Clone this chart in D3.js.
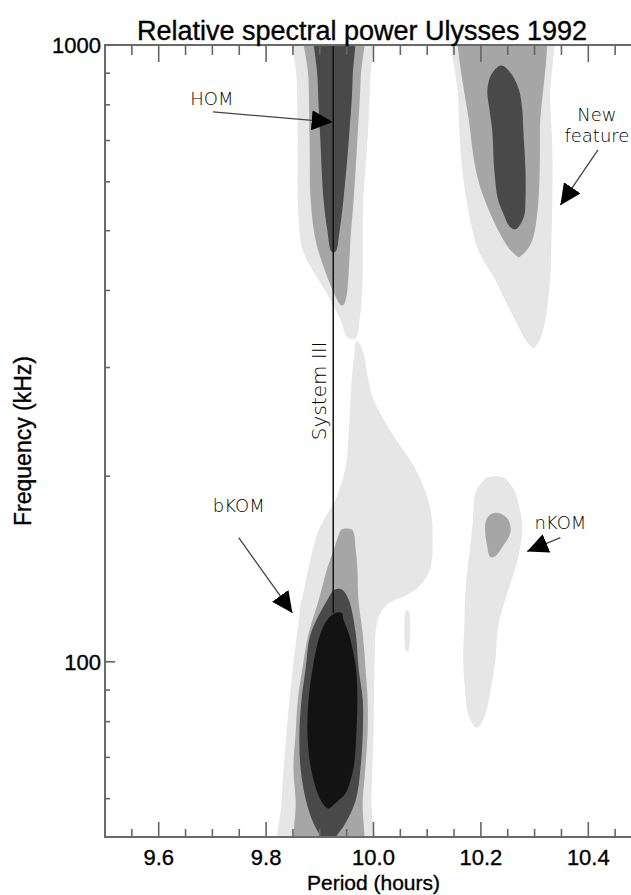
<!DOCTYPE html>
<html><head><meta charset="utf-8">
<script src="https://cdn.jsdelivr.net/npm/d3@7"></script>
<style>body{margin:0;background:#fff} svg{display:block}</style>
</head><body><svg id="c" width="631" height="895"></svg>
<script>
// ---------- data ----------
const periodDomain = [9.5, 10.5];
const freqDomain = [52, 1000];
const periodMajorTicks = [9.6, 9.8, 10.0, 10.2, 10.4];
const periodMinorTicks = [9.55, 9.65, 9.7, 9.75, 9.85, 9.9, 9.95, 10.05, 10.1, 10.15, 10.25, 10.3, 10.35, 10.45];
const freqMajorTicks = [100, 1000];
const freqMinorTicks = [60, 70, 80, 90, 200, 300, 400, 500, 600, 700, 800, 900];
const systemIIIPeriod = 9.925;
const systemIIIRange = [120, 1000];

// contour regions: rows of [frequency kHz, left period, right period]
const homLight = [[1200,9.851,9.996],[878,9.857,9.994],[702,9.859,9.989],[561,9.859,9.981],[465,9.868,9.980],[424,9.892,9.980],[386,9.920,9.978],[358,9.939,9.974],[335,9.952,9.967]];
const homMid = [[1200,9.872,9.978],[878,9.879,9.976],[702,9.881,9.970],[561,9.883,9.963],[483,9.892,9.957],[432,9.909,9.954],[393,9.928,9.950],[379,9.939,9.944]];
const homDark = [[1200,9.892,9.959],[878,9.896,9.961],[702,9.901,9.954],[561,9.907,9.944],[501,9.914,9.937],[462,9.922,9.929]];
const newLight = [[1200,10.154,10.323],[815,10.158,10.329],[676,10.162,10.333],[561,10.173,10.333],[465,10.195,10.331],[416,10.227,10.329],[386,10.245,10.325],[358,10.264,10.320],[333,10.283,10.310],[323,10.296,10.299]];
const newMid = [[1200,10.169,10.307],[728,10.180,10.310],[604,10.195,10.309],[534,10.217,10.305],[483,10.242,10.296],[462,10.258,10.283],[453,10.270,10.271]];
const newDark = [[925,10.234,10.242],[894,10.219,10.258],[845,10.212,10.271],[785,10.216,10.277],[728,10.221,10.279],[627,10.225,10.283],[561,10.232,10.283],[530,10.243,10.281],[511,10.251,10.273],[503,10.260,10.266]];
const komLight = [[330,9.967,9.971],[318,9.965,9.981],[297,9.961,9.987],[266,9.957,10.000],[235,9.954,10.034],[207,9.948,10.076],[183,9.929,10.102],[172,9.911,10.108],[162,9.896,10.110],[142,9.879,10.106],[133,9.872,10.087],[128,9.868,10.059],[124,9.864,10.026],[117,9.861,10.008],[98,9.850,10.002],[76.6,9.838,10.000],[59.7,9.829,9.996],[45,9.828,9.994]];
const komStreak = [[121,10.061,10.065],[104,10.061,10.065]];
const komMid = [[164,9.941,9.959],[162,9.937,9.963],[152,9.926,9.967],[142,9.914,9.970],[126,9.898,9.972],[111,9.879,9.980],[98,9.868,9.985],[86.7,9.859,9.989],[76.6,9.855,9.989],[67.5,9.851,9.985],[59.7,9.855,9.980],[45,9.861,9.972]];
const komDark = [[131,9.928,9.941],[126,9.914,9.954],[111,9.883,9.967],[98,9.874,9.972],[86.7,9.866,9.980],[76.6,9.862,9.980],[67.5,9.864,9.976],[59.7,9.874,9.967],[54.8,9.888,9.948],[52.8,9.898,9.935],[51.5,9.905,9.925]];
const komCore = [[120,9.929,9.941],[117,9.914,9.944],[111,9.901,9.954],[98,9.887,9.967],[86.7,9.879,9.970],[76.6,9.877,9.968],[67.5,9.883,9.963],[61.2,9.896,9.948],[59.0,9.905,9.929],[57.9,9.914,9.918]];
const nkomLight = [[199,10.212,10.242],[195,10.201,10.253],[188,10.190,10.264],[165,10.184,10.277],[146,10.177,10.268],[129,10.171,10.249],[114,10.169,10.232],[100.6,10.167,10.227],[89,10.171,10.217],[82,10.177,10.208],[78.3,10.190,10.195]];
const nkomMid = [[174,10.221,10.236],[170,10.210,10.251],[162,10.208,10.255],[153.5,10.212,10.240],[148,10.217,10.225]];

const regions = [
  {level:0, rows:homLight},{level:0, rows:newLight},{level:0, rows:komLight},{level:0, rows:komStreak},{level:0, rows:nkomLight},
  {level:1, rows:homMid},{level:1, rows:newMid},{level:1, rows:komMid},{level:1, rows:nkomMid},
  {level:2, rows:homDark},{level:2, rows:newDark},{level:2, rows:komDark},
  {level:3, rows:komCore}
];
const levelColors = ["#e6e6e6", "#a6a6a6", "#494949", "#131313"];

const labels = [
  {text:"HOM", period:9.699, freq:799},
  {text:"New", period:10.416, freq:752},
  {text:"feature", period:10.416, freq:696},
  {text:"bKOM", period:9.749, freq:175},
  {text:"nKOM", period:10.348, freq:164}
];
const arrows = [
  {from:[9.701,779], to:[9.924,750]},
  {from:[10.418,676], to:[10.348,550]},
  {from:[9.749,159], to:[9.849,120]},
  {from:[10.348,159], to:[10.286,151]}
];
const systemIIILabel = {text:"System III", period:9.901, freq:275};

// ---------- drawing ----------
const svg = d3.select("#c");
const x = d3.scaleLinear().domain(periodDomain).range([105, 642]);
const y = d3.scaleLog().domain(freqDomain).range([837, 45]);
const X0 = x.range()[0], X1 = x.range()[1], Y0 = y.range()[1], Y1 = y.range()[0];

const defs = svg.append("defs");
defs.append("clipPath").attr("id","plot").append("rect")
  .attr("x",X0).attr("y",Y0).attr("width",X1-X0).attr("height",Y1-Y0);
defs.append("marker").attr("id","ah").attr("viewBox","0 0 21 20")
  .attr("refX",21).attr("refY",10).attr("markerWidth",21).attr("markerHeight",20)
  .attr("markerUnits","userSpaceOnUse").attr("orient","auto")
  .append("path").attr("d","M0,0L21,10L0,20Z").attr("fill","#000");

const line = d3.line().curve(d3.curveCatmullRomClosed.alpha(0.5));
const g = svg.append("g").attr("clip-path","url(#plot)");
g.selectAll("path.region").data(regions).join("path")
  .attr("class","region")
  .attr("d", r => {
    const left = r.rows.map(d => [x(d[1]), y(d[0])]);
    const right = r.rows.slice().reverse().map(d => [x(d[2]), y(d[0])]);
    return line(left.concat(right));
  })
  .attr("fill", r => levelColors[r.level]);

// System III line
g.append("line")
  .attr("x1", x(systemIIIPeriod)).attr("x2", x(systemIIIPeriod))
  .attr("y1", y(systemIIIRange[1])).attr("y2", y(systemIIIRange[0]))
  .attr("stroke","#111").attr("stroke-width",1.5);

// frame
svg.append("rect").attr("x",X0).attr("y",Y0).attr("width",X1-X0).attr("height",Y1-Y0)
  .attr("fill","none").attr("stroke","#6a6a6a").attr("stroke-width",2);

// ticks
const tickG = svg.append("g").attr("stroke","#666").attr("stroke-width",1.6);
function vTicks(vals, len) {
  tickG.selectAll(null).data(vals).join("line")
    .attr("x1", d => x(d)).attr("x2", d => x(d)).attr("y1", Y1).attr("y2", Y1 - len);
  tickG.selectAll(null).data(vals).join("line")
    .attr("x1", d => x(d)).attr("x2", d => x(d)).attr("y1", Y0).attr("y2", Y0 + len + 2);
}
vTicks(periodMajorTicks, 15);
vTicks(periodMinorTicks, 8);
tickG.selectAll(null).data(freqMajorTicks).join("line")
  .attr("x1", X0).attr("x2", X0 + 10).attr("y1", d => y(d)).attr("y2", d => y(d));
tickG.selectAll(null).data(freqMinorTicks).join("line")
  .attr("x1", X0).attr("x2", X0 + 5).attr("y1", d => y(d)).attr("y2", d => y(d));

const sans = "'Liberation Sans', Arial, Helvetica, sans-serif";
function heavy(sel) { return sel.attr("stroke","#000").attr("stroke-width",0.35).attr("fill","#000"); }
heavy(svg.selectAll("text.xt").data(periodMajorTicks).join("text").attr("class","xt")
  .attr("x", d => x(d)).attr("y", 865).attr("text-anchor","middle")
  .attr("font-family", sans).attr("font-size", 22).text(d3.format(".1f")));
heavy(svg.selectAll("text.yt").data(freqMajorTicks).join("text").attr("class","yt")
  .attr("x", X0 - 4).attr("y", d => y(d) + 8).attr("text-anchor","end")
  .attr("font-family", sans).attr("font-size", 22).text(d => d));

// titles
heavy(svg.append("text").attr("x", 362).attr("y", 40).attr("text-anchor","middle")
  .attr("font-family", sans).attr("font-size", 27).text("Relative spectral power Ulysses 1992"));
heavy(svg.append("text").attr("x", (X0+X1)/2).attr("y", 890).attr("text-anchor","middle")
  .attr("font-family", sans).attr("font-size", 21).text("Period (hours)"));
heavy(svg.append("text").attr("transform", `translate(31,${(Y0+Y1)/2}) rotate(-90)`).attr("text-anchor","middle")
  .attr("font-family", sans).attr("font-size", 23).text("Frequency (kHz)"));

// annotations
const anno = "'DejaVu Sans', sans-serif";
svg.selectAll("line.arrow").data(arrows).join("line").attr("class","arrow")
  .attr("x1", d => x(d.from[0])).attr("y1", d => y(d.from[1]))
  .attr("x2", d => x(d.to[0])).attr("y2", d => y(d.to[1]))
  .attr("stroke","#444").attr("stroke-width",1.3).attr("marker-end","url(#ah)");
svg.selectAll("text.lab").data(labels).join("text").attr("class","lab")
  .attr("x", d => x(d.period)).attr("y", d => y(d.freq)).attr("text-anchor","middle")
  .attr("font-family", anno).attr("font-weight", 200).attr("font-size", 18).attr("fill","#000")
  .text(d => d.text);
svg.append("text")
  .attr("transform", `translate(${x(systemIIILabel.period) + 6},${y(systemIIILabel.freq)}) rotate(-90)`)
  .attr("text-anchor","middle").attr("font-family", anno).attr("font-weight", 200)
  .attr("font-size", 20).attr("fill","#000").text(systemIIILabel.text);
</script></body></html>
